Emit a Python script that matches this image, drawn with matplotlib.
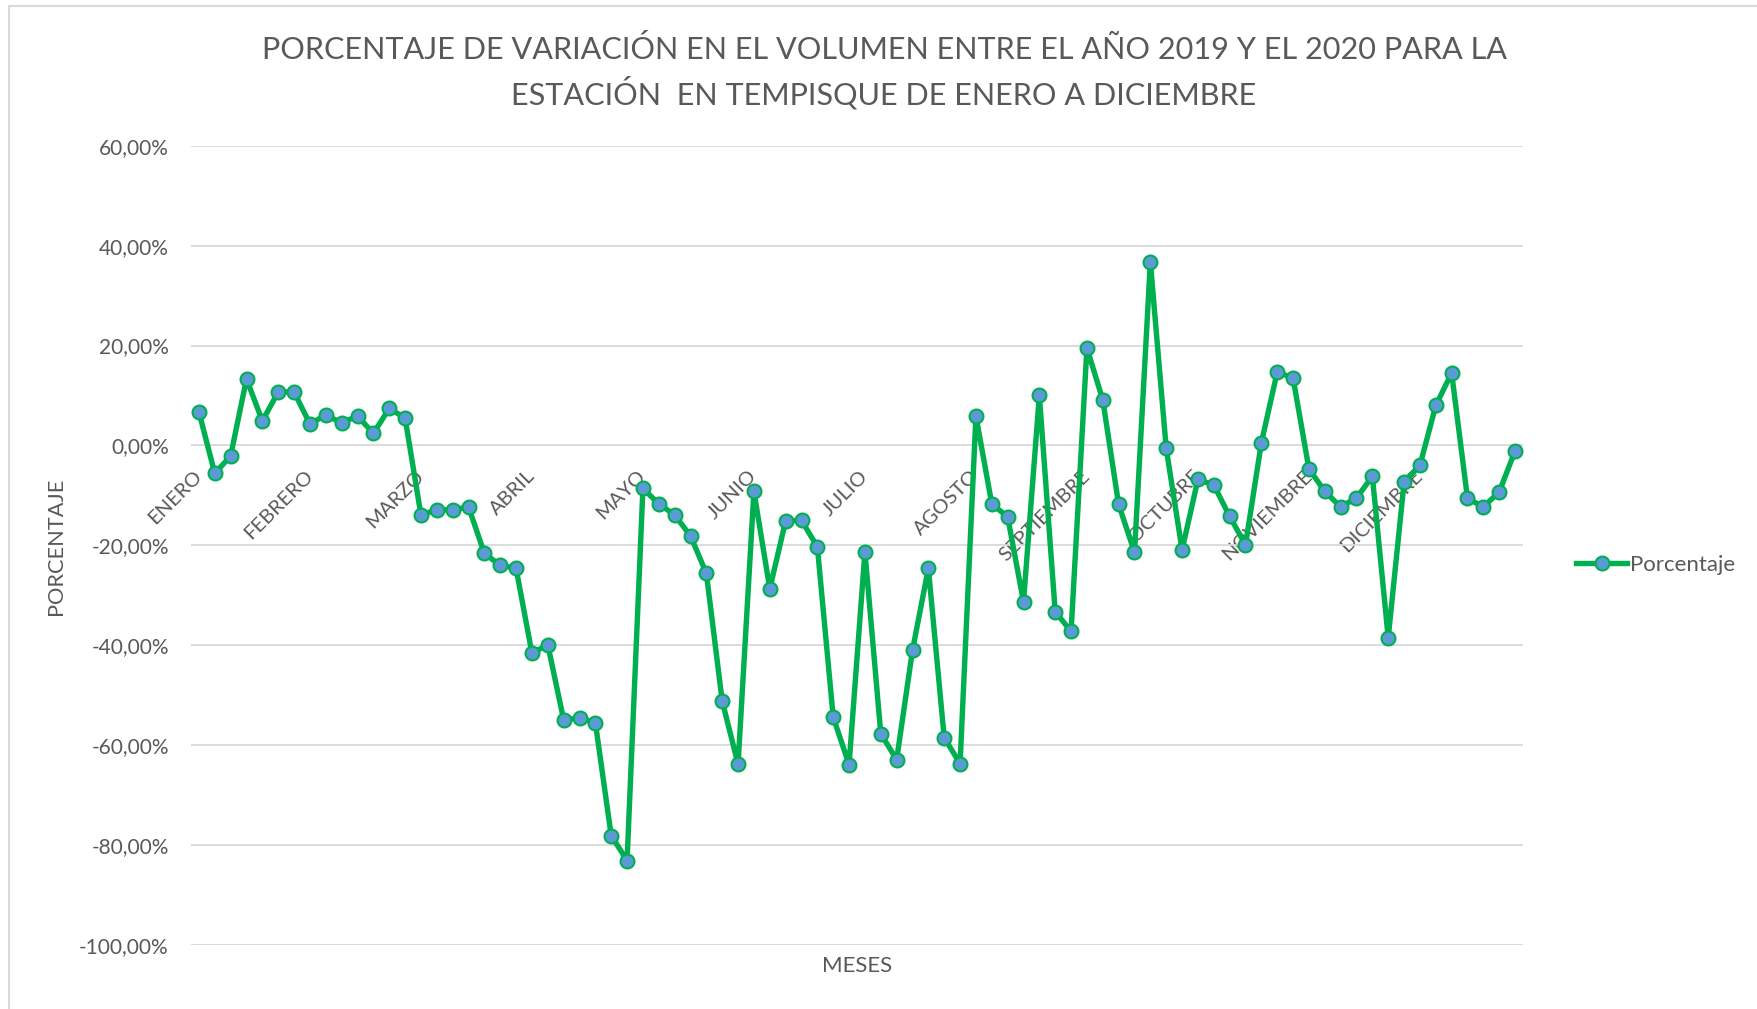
import numpy as np
import matplotlib.pyplot as plt
from matplotlib.lines import Line2D

plt.rcParams['font.family'] = ['Lato', 'DejaVu Sans']

meses = ['ENERO', 'FEBRERO', 'MARZO', 'ABRIL', 'MAYO', 'JUNIO', 'JULIO',
         'AGOSTO', 'SEPTIEMBRE', 'OCTUBRE', 'NOVIEMBRE', 'DICIEMBRE']

# porcentaje de variacion semanal (7 valores por mes)
porcentaje = [
    6.7, -5.6, -2.1, 13.3, 4.9, 10.7, 10.7,
    4.3, 6.1, 4.5, 5.9, 2.4, 7.4, 5.5,
    -13.9, -12.9, -12.9, -12.3, -21.6, -24.0, -24.6,
    -41.6, -39.9, -54.9, -54.6, -55.5, -78.1, -83.1,
    -8.6, -11.7, -13.9, -18.1, -25.6, -51.2, -63.8,
    -9.2, -28.7, -15.1, -15.0, -20.3, -54.4, -63.9,
    -21.3, -57.7, -62.9, -41.0, -24.6, -58.5, -63.7,
    5.9, -11.7, -14.3, -31.3, 10.0, -33.3, -37.2,
    19.5, 9.1, -11.8, -21.4, 36.7, -0.6, -20.9,
    -6.8, -7.9, -14.2, -19.9, 0.5, 14.7, 13.5,
    -4.7, -9.2, -12.3, -10.5, -6.2, -38.5, -7.4,
    -4.0, 8.0, 14.5, -10.6, -12.3, -9.3, -1.1,
]

W, H = 1757, 1009
fig = plt.figure(figsize=(W / 100, H / 100), dpi=100)
ax = fig.add_axes([191 / W, 1 - 945 / H, (1523 - 191) / W, (945 - 145.7) / H])

x = np.arange(len(porcentaje))
ax.plot(x, porcentaje, color='#00B050', linewidth=3.9, marker='o',
        markersize=10, markerfacecolor='#5B9BD5', markeredgecolor='#00B050',
        markeredgewidth=1.5, label='Porcentaje', zorder=3)

ax.set_xlim(-0.5, len(porcentaje) - 0.5)
ax.set_ylim(-100, 60)
yt = np.arange(-100, 61, 20)
ax.set_yticks(yt)
ax.set_yticklabels([f'{v:.2f}%'.replace('.', ',') for v in yt])
ax.grid(axis='y', color='#D9D9D9', linewidth=1.3, zorder=0)
ax.set_axisbelow(True)

for s in ['top', 'right', 'left']:
    ax.spines[s].set_visible(False)
ax.spines['bottom'].set_position(('data', 0))
ax.spines['bottom'].set_visible(False)

ax.set_xticks(x[::7])
ax.set_xticklabels(meses, rotation=45, ha='right', va='center',
                   rotation_mode='anchor')
ax.tick_params(axis='x', length=0, pad=20, labelsize=14.5, labelcolor='#595959')
ax.tick_params(axis='y', length=0, pad=16, labelsize=15, labelcolor='#595959')

fig.text(56 / W, 1 - 546 / H, 'PORCENTAJE', rotation=90, ha='center',
         va='center', fontsize=15.7, color='#595959')
fig.text(857 / W, 1 - 966 / H, 'MESES', ha='center', va='center',
         fontsize=16, color='#595959')

fig.text(884 / W, 1 - 72 / H,
         'PORCENTAJE DE VARIACIÓN EN EL VOLUMEN ENTRE EL AÑO 2019 Y EL 2020 PARA LA\n'
         'ESTACIÓN  EN TEMPISQUE DE ENERO A DICIEMBRE',
         ha='center', va='center', fontsize=22.1, color='#595959',
         linespacing=1.42)

fig.legend(loc='center left', bbox_to_anchor=(1556 / W, 1 - 565 / H),
           frameon=False, fontsize=16, labelcolor='#595959',
           handlelength=2.3, handletextpad=0.15)

# marco del grafico
fig.add_artist(Line2D([9 / W, 1], [1 - 6 / H, 1 - 6 / H], color='#D9D9D9', linewidth=1.5))
fig.add_artist(Line2D([9 / W, 9 / W], [0, 1 - 6 / H], color='#D9D9D9', linewidth=1.5))

fig.savefig('out.png', dpi=100)
